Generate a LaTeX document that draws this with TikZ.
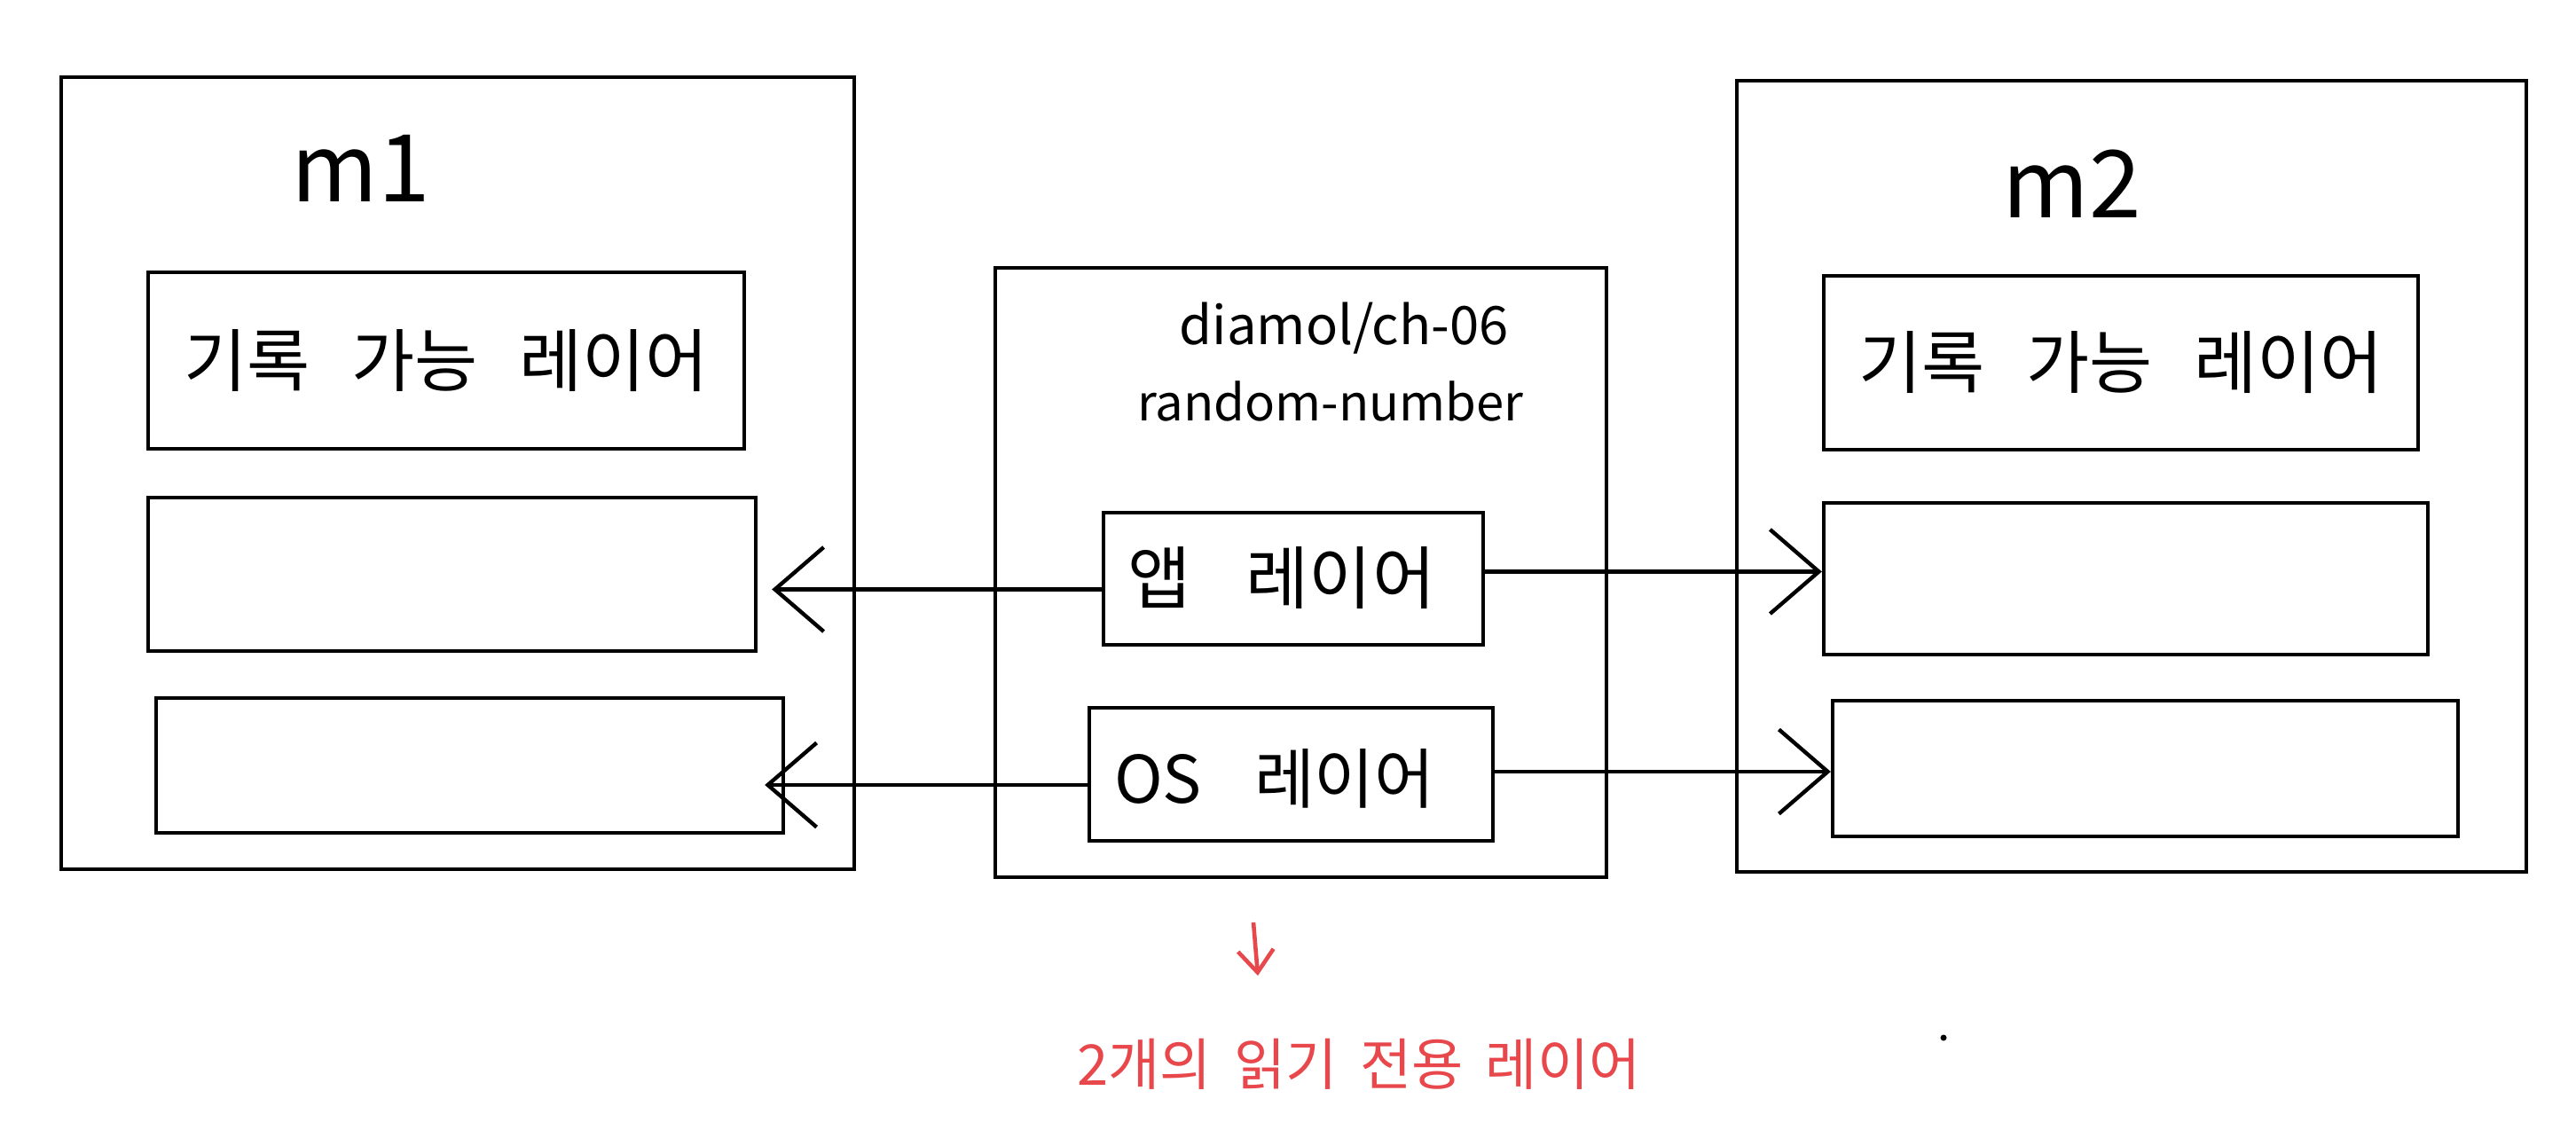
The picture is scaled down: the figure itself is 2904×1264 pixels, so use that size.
\documentclass[tikz,border=0pt]{standalone}
\usepackage{fontspec}
\setmainfont{Noto Sans CJK KR}
\usetikzlibrary{fit,arrows.meta}
\definecolor{redink}{HTML}{E8474B}
\begin{document}
\begin{tikzpicture}[x=0.01cm,y=-0.01cm,
  box/.style={draw, line width=1.25pt, inner sep=0pt},
  lbl/.style={font=\fontsize{22}{26}\selectfont, inner sep=0pt},
  small/.style={font=\fontsize{17}{20}\selectfont, inner sep=0pt},
  big/.style={font=\fontsize{30}{34}\selectfont, inner sep=0pt},
  conn/.style={line width=1.25pt, -{Straight Barb[length=5.5mm,width=9.5mm]}},
]
\fill[white] (0,0) rectangle (2904,1264);
\useasboundingbox (0,0) rectangle (2904,1264);

% machine 1
\node[box, fit={(69,87) (963,980)}] (m1) {};
\node[box, fit={(167,307) (839,506)}] (m1b1) {};
\node[box, fit={(167,561) (852,734)}] (m1b2) {};
\node[box, fit={(176,787) (883,939)}] (m1b3) {};
\node[big] (m1lbl) at (407,190) {m1};
\node[lbl] (m1t1) at (m1b1.center) {기록\hspace{0.6em}가능\hspace{0.6em}레이어};

% image
\node[box, fit={(1122,302) (1811,989)}] (mid) {};
\node[small] (img1) at (1515,370) {diamol/ch-06};
\node[font=\fontsize{16}{19}\selectfont, inner sep=0pt] (img2) at (1500,452) {random-number};
\node[box, fit={(1244,578) (1672,727)}] (app) {};
\node[box, fit={(1228,798) (1683,948)}] (os) {};
\node[lbl] (appt) at (1445,652) {앱\hspace{0.8em}레이어};
\node[font=\fontsize{21}{25}\selectfont, inner sep=0pt] (ost) at (1437,878) {OS\hspace{0.8em}레이어};

% machine 2
\node[box, fit={(1958,91) (2848,983)}] (m2) {};
\node[box, fit={(2056,311) (2726,507)}] (m2b1) {};
\node[box, fit={(2056,567) (2737,738)}] (m2b2) {};
\node[box, fit={(2066,790) (2771,943)}] (m2b3) {};
\node[big] (m2lbl) at (2336,207) {m2};
\node[lbl] (m2t1) at (m2b1.center) {기록\hspace{0.6em}가능\hspace{0.6em}레이어};

% connectors
\draw[conn] ([yshift=-0.12cm]app.west) -- ([xshift=0.16cm,yshift=-0.12cm]app.west -| m1b2.east);
\draw[conn] ([yshift=-0.12cm]os.west) -- ([xshift=-0.23cm,yshift=-0.12cm]os.west -| m1b3.east);
\draw[conn] ([yshift=0.08cm]app.east) -- ([yshift=0.08cm]app.east -| m2b2.west);
\draw[conn] ([yshift=0.03cm]os.east) -- ([yshift=0.03cm]os.east -| m2b3.west);

% note
\coordinate (ra1) at (1413,1040);
\coordinate (ra2) at (1418,1100);
\draw[redink, line width=1.3pt, -{Straight Barb[length=2.5mm,width=4mm]}] (ra1) -- (ra2);
\node[font=\fontsize{18}{22}\selectfont, text=redink, inner sep=0pt] (note) at (1532,1200) {2개의\hspace{0.4em}읽기\hspace{0.4em}전용\hspace{0.4em}레이어};
\fill (2191,1170) circle (3.5);
\end{tikzpicture}
\end{document}
